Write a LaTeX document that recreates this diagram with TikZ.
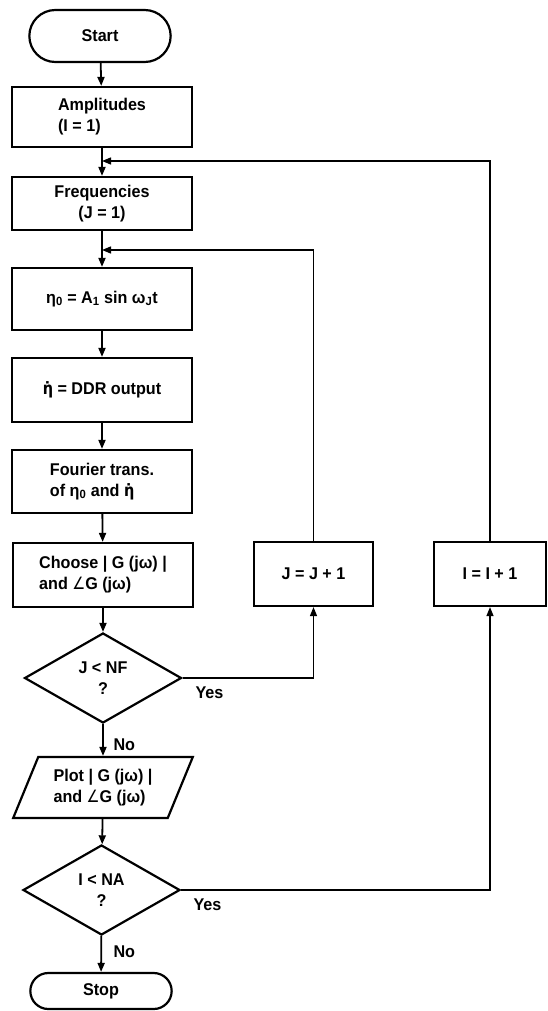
\documentclass[tikz,border=0pt]{standalone}
\usepackage{fontspec}
\setmainfont{Liberation Sans}[FakeStretch=0.95]
\newfontfamily\dvsans{DejaVu Sans}[FakeStretch=0.85]
\newcommand{\etadot}{{\dvsans η̇}}
\newcommand{\ang}{{\dvsans\mdseries ∠}}
\usetikzlibrary{shapes.geometric,shapes.misc,arrows.meta}
\begin{document}
\begin{tikzpicture}[x=1pt,y=-1pt,
  txt/.style={font=\fontsize{17}{21}\selectfont\bfseries},
  box/.style={txt,draw,line width=2.2pt,rectangle,minimum width=180pt,inner sep=2pt},
  term/.style={txt,draw,line width=2.2pt,rounded rectangle,minimum width=148pt},
  dec/.style={txt,draw,line width=2.2pt,diamond,aspect=1.74,inner sep=0pt,minimum width=157pt,minimum height=90pt,align=center},
  io/.style={txt,draw,line width=2.2pt,trapezium,trapezium left angle=64,trapezium right angle=116,trapezium stretches=true,minimum width=180pt,minimum height=61pt,inner sep=2pt},
  arr/.style={line width=1.8pt,-{Triangle[length=9pt,width=7pt]}},
  loop/.style={line width=1.3pt,-{Triangle[length=9pt,width=7pt]}},
  lbl/.style={txt,anchor=west}
]
\useasboundingbox (0,0) rectangle (547,1011);
\node[term,minimum height=52pt] (start) at (100,36) {Start};
\node[box,minimum height=60pt,align=left] (amp) at (102,117) {Amplitudes\\(I = 1)};
\node[box,minimum height=53pt,align=center] (fre) at (102,203.5) {Frequencies\\(J = 1)};
\node[box,minimum height=62pt] (eta0) at (102,299) {η\textsubscript{0} = A\textsubscript{1} sin ω\textsubscript{J}t};
\node[box,minimum height=64pt] (etad) at (102,390) {\etadot{} = DDR output};
\node[box,minimum height=63pt,align=left] (four) at (102,481.5) {Fourier trans.\\of η\textsubscript{0} and \etadot};
\node[box,minimum height=64pt,align=left] (choose) at (103,575) {Choose | G (jω) |\\and \ang G (jω)};
\node[dec] (d1) at (103,678) {J < NF\\?};
\node[io,align=left] (plot) at (103,787.5) {Plot | G (jω) |\\and \ang G (jω)};
\node[dec] (d2) at (101.5,890) {I < NA\\?};
\node[term,minimum height=36pt] (stop) at (101,991) {Stop};
\node[box,minimum width=119pt,minimum height=64pt] (jbox) at (313.5,574) {J = J + 1};
\node[box,minimum width=112pt,minimum height=64pt] (ibox) at (490,574) {I = I + 1};
\coordinate (j1) at (102,161);
\coordinate (j2) at (102,250);
\draw[arr] (start) -- (amp);
\draw[arr] (amp) -- (fre);
\draw[arr] (fre) -- (eta0);
\draw[arr] (eta0) -- (etad);
\draw[arr] (etad) -- (four);
\draw[arr] (four) -- (choose);
\draw[arr] (choose) -- (d1);
\draw[arr] (d1) -- (plot);
\draw[arr] (plot) -- (d2);
\draw[arr] (d2) -- (stop);
\draw[loop] (d1.east) -| (jbox.south);
\draw[loop] (jbox.north) |- (j2);
\draw[loop] (d2.east) -| (ibox.south);
\draw[loop] (ibox.north) |- (j1);
\node[lbl] (y1) at (192,693) {Yes};
\node[lbl] (y2) at (190,905) {Yes};
\node[lbl] (n1) at (110,745) {No};
\node[lbl] (n2) at (110,952) {No};
\end{tikzpicture}
\end{document}
